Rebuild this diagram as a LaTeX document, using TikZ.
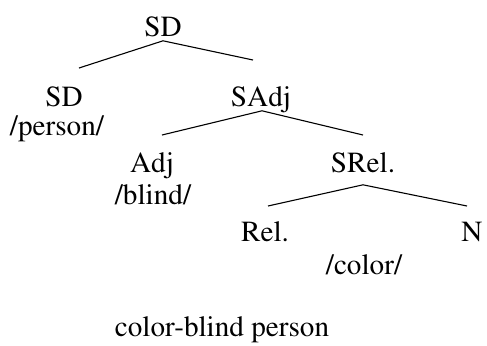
\documentclass[tikz,border=0pt]{standalone}
\usepackage[T1]{fontenc}
\usepackage{times}
\usepackage{tikz}

\begin{document}
\begin{tikzpicture}[x=0.5pt, y=-0.5pt,
    every node/.style={inner sep=0pt, anchor=base, font=\rmfamily\fontsize{14.6}{17}\selectfont, text depth=0.22em},
    roof/.style={draw, line width=0.55pt}]
    \useasboundingbox (0,0) rectangle (487,345);

    % SD
    \node (root) at (163,36) {SD};
    \coordinate (root-l) at (79,68);
    \coordinate (root-r) at (253,60);
    \draw[roof] (root-l) -- (root.south) -- (root-r);

    % SD /person/
    \node (sdl) at (64,106) {SD};
    \node (person) at (57,135) {/person/};

    % SAdj
    \node (sadj) at (261,106) {SAdj};
    \coordinate (sadj-l) at (162,135);
    \coordinate (sadj-r) at (363,135);
    \draw[roof] (sadj-l) -- ([xshift=0.5pt]sadj.south) -- (sadj-r);

    % Adj /blind/
    \node (adj) at (152,172) {Adj};
    \node (blind) at (153,204) {/blind/};

    % SRel.
    \node (srel) at (363,172) {SRel.};
    \coordinate (srel-l) at (268,206);
    \coordinate (srel-r) at (467,206);
    \draw[roof] (srel-l) -- ([yshift=-4pt]srel.south) -- (srel-r);

    % Rel. N /color/
    \node (rel) at (265,241) {Rel.};
    \node (n) at (472,241) {N};
    \node (color) at (364,274) {/color/};

    % Glosa
    \node (gloss) at (222,336) {color-blind person};
\end{tikzpicture}
\end{document}
